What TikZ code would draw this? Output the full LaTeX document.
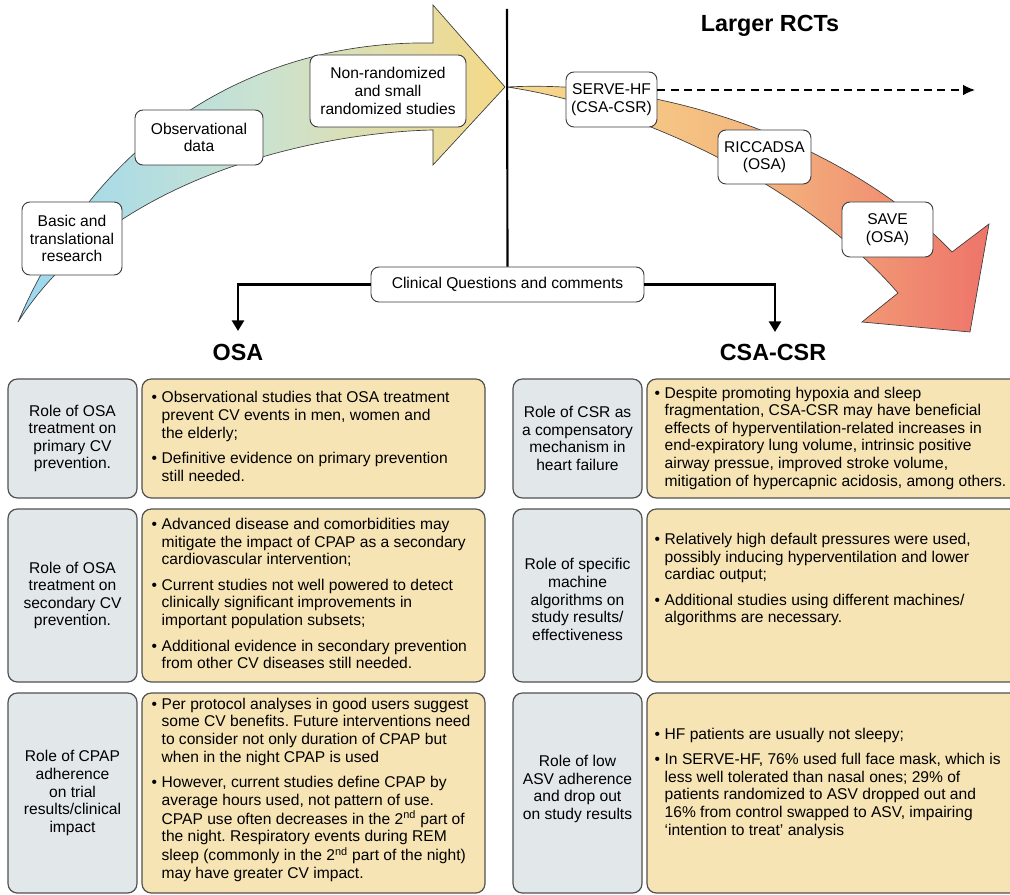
\documentclass[tikz,border=0pt]{standalone}
\usepackage{fontspec}
\setmainfont{Liberation Sans}
\usetikzlibrary{arrows.meta}
\definecolor{grayfill}{RGB}{226,231,233}
\definecolor{yfill}{RGB}{246,228,180}
\definecolor{boxline}{RGB}{60,60,60}
\definecolor{boxlinetwo}{RGB}{80,80,80}
\definecolor{lblue}{RGB}{155,216,242}
\definecolor{lmid}{RGB}{202,226,208}
\definecolor{lyel}{RGB}{245,217,135}
\definecolor{ryel}{RGB}{247,218,142}
\definecolor{rmid}{RGB}{244,184,126}
\definecolor{rred}{RGB}{238,116,106}
\newcommand\bu{\makebox[7.5pt][l]{\textbullet}}
\frenchspacing
\begin{document}
\begin{tikzpicture}[x=0.75pt,y=-0.75pt,
  font=\fontsize{11.7}{13.2}\selectfont\frenchspacing,
  topbox/.style={draw=boxline, fill=white, rounded corners=6pt, line width=0.7pt, align=center, inner sep=0pt},
  graybox/.style={draw=boxlinetwo, fill=grayfill, rounded corners=7pt, line width=0.9pt, align=center, inner sep=0pt, minimum width=96.75pt},
  ybox/.style={draw=boxlinetwo, fill=yfill, rounded corners=7pt, line width=0.9pt, inner sep=0pt},
  tnode/.style={anchor=west, inner sep=0pt, align=left},
  gtext/.style={anchor=center, inner sep=0pt, align=center},
  heading/.style={font=\bfseries\fontsize{17.5}{20}\selectfont, inner sep=0pt, anchor=base},
  conn/.style={line width=2pt, -{Triangle[length=8pt,width=9pt]}},
  arrowbody/.style={draw=boxline, line width=0.5pt}
]
\useasboundingbox (0,0) rectangle (1010,895);

% big curved arrows
\shadedraw[arrowbody, left color=lblue, right color=lyel, middle color=lmid]
  (18,322) .. controls (100,130) and (260,40) .. (433,43) -- (433,5) -- (505,87) -- (433,165) -- (433,130)
  .. controls (330,132) and (115,170) .. (18,322) -- cycle;
\shadedraw[arrowbody, left color=ryel, right color=rred, middle color=rmid]
  (507,87) .. controls (680,78) and (860,155) .. (952,252) -- (989,224) -- (970,332) -- (862,322) -- (898,293)
  .. controls (800,180) and (630,105) .. (507,87) -- cycle;

% top boxes
\node[topbox, minimum width=75pt, minimum height=54.75pt] (basic) at (72,238.5) {Basic and\\translational\\research};
\node[topbox, minimum width=96pt, minimum height=41.25pt] (obs) at (199,137.5) {Observational\\data};
\node[topbox, minimum width=117pt, minimum height=54pt] (nonr) at (388,91) {Non-randomized\\and small\\randomized studies};
\node[topbox, minimum width=68.25pt, minimum height=41.25pt] (serve) at (611.5,99.5) {SERVE-HF\\(CSA-CSR)};
\node[topbox, minimum width=69.75pt, minimum height=40.5pt] (ricc) at (764.5,157) {RICCADSA\\(OSA)};
\node[topbox, minimum width=68.25pt, minimum height=41.25pt] (save) at (887.5,229.5) {SAVE\\(OSA)};
\node[topbox, minimum width=204.75pt, minimum height=26.25pt] (cq) at (507.5,284.5) {Clinical Questions and comments};

\node[heading] (rct) at (770,32) {Larger RCTs};
\node[heading] (osa) at (238,360) {OSA};
\node[heading] (csa) at (773,360) {CSA-CSR};

% connectors
\coordinate (vtop) at (507,9);
\coordinate (dashend) at (975,90);
\coordinate (osatip) at (238,331);
\coordinate (csatip) at (775,332);
\draw[line width=1.6pt] (vtop) -- (cq.north);
\draw[line width=1.1pt, dash pattern=on 6pt off 4pt, -{Latex[length=9pt,width=8pt]}] (serve.east |- dashend) -- (dashend);
\draw[conn] (cq.west) -| (osatip);
\draw[conn] (cq.east) -| (csatip);

% OSA column
\node[graybox, minimum height=89.25pt] (g1) at (72.5,438.5) {Role of OSA\\treatment on\\primary CV\\prevention.};
\node[ybox, minimum width=257.25pt, minimum height=89.25pt] (y1) at (313.5,438.5) {};
\node[tnode] (t1) at ([xshift=7.5pt]y1.west) {\begin{tabular}{@{}l@{}l@{}}
\bu & Observational studies that OSA treatment\\
 & prevent CV events in men, women and\\
 & the elderly;\\[6pt]
\bu & Definitive evidence on primary prevention\\
 & still needed.
\end{tabular}};

\node[graybox, minimum height=129.75pt] (g2) at (72.5,595.5) {Role of OSA\\treatment on\\secondary CV\\prevention.};
\node[ybox, minimum width=257.25pt, minimum height=129.75pt] (y2) at (313.5,595.5) {};
\node[tnode] (t2) at ([xshift=7.5pt]y2.west) {\begin{tabular}{@{}l@{}l@{}}
\bu & Advanced disease and comorbidities may\\
 & mitigate the impact of CPAP as a secondary\\
 & cardiovascular intervention;\\[6pt]
\bu & Current studies not well powered to detect\\
 & clinically significant improvements in\\
 & important population subsets;\\[6pt]
\bu & Additional evidence in secondary prevention\\
 & from other CV diseases still needed.
\end{tabular}};

\node[graybox, minimum height=150pt] (g3) at (72.5,793) {Role of CPAP\\adherence\\on trial\\results/clinical\\impact};
\node[ybox, minimum width=257.25pt, minimum height=150pt] (y3) at (313.5,793) {};
\node[tnode] (t3) at ([xshift=7.5pt,yshift=2pt]y3.west) {\begin{tabular}{@{}l@{}l@{}}
\bu & Per protocol analyses in good users suggest\\
 & some CV benefits. Future interventions need\\
 & to consider not only duration of CPAP but\\
 & when in the night CPAP is used\\[6pt]
\bu & However, current studies define CPAP by\\
 & average hours used, not pattern of use.\\
 & CPAP use often decreases in the 2\textsuperscript{nd} part of\\
 & the night. Respiratory events during REM\\
 & sleep (commonly in the 2\textsuperscript{nd} part of the night)\\
 & may have greater CV impact.
\end{tabular}};

% CSA-CSR column
\node[graybox, minimum height=89.25pt] (g4) at (577.5,438.5) {Role of CSR as\\a compensatory\\mechanism in\\heart failure};
\node[ybox, minimum width=279.75pt, minimum height=89.25pt] (y4) at (833.5,438.5) {};
\node[tnode] (t4) at ([xshift=6pt]y4.west) {\begin{tabular}{@{}l@{}l@{}}
\bu & Despite promoting hypoxia and sleep\\
 & fragmentation, CSA-CSR may have beneficial\\
 & effects of hyperventilation-related increases in\\
 & end-expiratory lung volume, intrinsic positive\\
 & airway pressue, improved stroke volume,\\
 & mitigation of hypercapnic acidosis, among others.
\end{tabular}};

\node[graybox, minimum height=129.75pt] (g5) at (577.5,595.5) {};
\node[gtext] (g5t) at ([yshift=-3pt]g5.center) {Role of specific\\machine\\algorithms on\\study results/\\effectiveness};
\node[ybox, minimum width=279.75pt, minimum height=129.75pt] (y5) at (833.5,595.5) {};
\node[tnode] (t5) at ([xshift=6pt,yshift=11.5pt]y5.west) {\begin{tabular}{@{}l@{}l@{}}
\bu & Relatively high default pressures were used,\\
 & possibly inducing hyperventilation and lower\\
 & cardiac output;\\[6pt]
\bu & Additional studies using different machines/\\
 & algorithms are necessary.
\end{tabular}};

\node[graybox, minimum height=150pt] (g6) at (577.5,793) {};
\node[gtext] (g6t) at ([yshift=3pt]g6.center) {Role of low\\ASV adherence\\and drop out\\on study results};
\node[ybox, minimum width=279.75pt, minimum height=150pt] (y6) at (833.5,793) {};
\node[tnode] (t6) at ([xshift=6pt,yshift=7pt]y6.west) {\begin{tabular}{@{}l@{}l@{}}
\bu & HF patients are usually not sleepy;\\[6pt]
\bu & In SERVE-HF, 76\% used full face mask, which is\\
 & less well tolerated than nasal ones; 29\% of\\
 & patients randomized to ASV dropped out and\\
 & 16\% from control swapped to ASV, impairing\\
 & ‘intention to treat’ analysis
\end{tabular}};
\end{tikzpicture}
\end{document}
